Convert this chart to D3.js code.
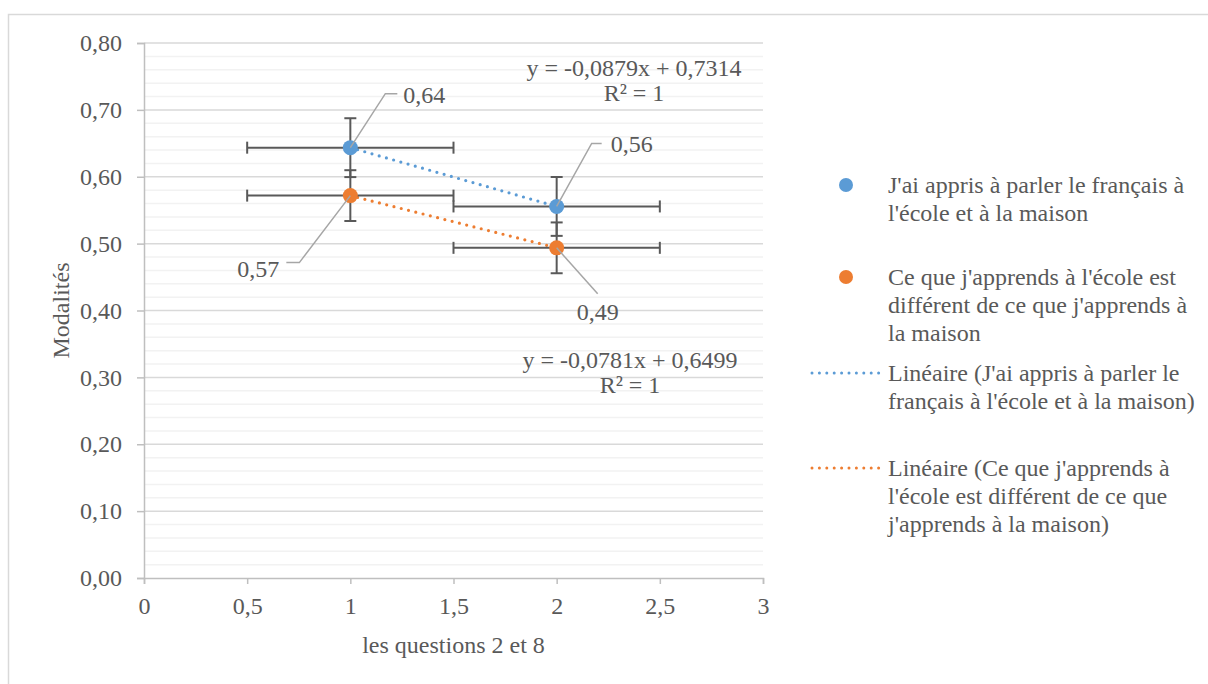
<!DOCTYPE html>
<html>
<head>
<meta charset="utf-8">
<script src="https://cdn.jsdelivr.net/npm/d3@7"></script>
<style>
body { margin: 0; background: #fff; }
text { font-family: "Liberation Serif", "Times New Roman", serif; fill: #595959; }
</style>
</head>
<body>
<div id="chart"></div>
<script>
// data
var xValues = [1, 2];
var seriesNames = ["J'ai appris à parler le français à l'école et à la maison",
                   "Ce que j'apprends à l'école est différent de ce que j'apprends à la maison"];
var blueValues = [0.6435, 0.5556];
var orangeValues = [0.5718, 0.4937];
var blueYErr = 0.044;
var orangeYErr = 0.038;
var xErr = 0.5;
var blueLabels = ["0,64", "0,56"];
var orangeLabels = ["0,57", "0,49"];
var equations = [["y = -0,0879x + 0,7314", "R² = 1"], ["y = -0,0781x + 0,6499", "R² = 1"]];
var yTicks = [0, 0.1, 0.2, 0.3, 0.4, 0.5, 0.6, 0.7, 0.8];
var xTicks = [0, 0.5, 1, 1.5, 2, 2.5, 3];

var width = 1208, height = 684;
var plotLeft = 144, plotRight = 763, plotTop = 43, plotBottom = 578;
var blue = "#5B9BD5", orange = "#ED7D31";
var fontSize = "24px";

function init(){
	var svg = d3.select("#chart").append("svg")
		.attr("width", width)
		.attr("height", height);

	// chart border
	svg.append("rect")
		.attr("x", 8.5).attr("y", 14.5)
		.attr("width", 1300).attr("height", 800)
		.attr("fill", "none").attr("stroke", "#d9d9d9").attr("stroke-width", 1.5);

	var x = d3.scaleLinear().domain([0, 3]).range([plotLeft, plotRight]);
	var y = d3.scaleLinear().domain([0, 0.8]).range([plotBottom, plotTop]);
	var fmt = function(v, n){ return d3.format("." + n + "f")(v).replace(".", ","); };

	// minor gridlines
	svg.append("g").selectAll("line")
		.data(d3.range(0, 40).map(i => i * 0.02).filter((v, i) => i % 5 != 0))
		.enter().append("line")
		.attr("x1", plotLeft).attr("x2", plotRight)
		.attr("y1", d => y(d)).attr("y2", d => y(d))
		.attr("stroke", "#f2f2f2").attr("stroke-width", 1.5);

	// major gridlines
	svg.append("g").selectAll("line")
		.data(yTicks.slice(1))
		.enter().append("line")
		.attr("x1", plotLeft).attr("x2", plotRight)
		.attr("y1", d => y(d)).attr("y2", d => y(d))
		.attr("stroke", "#d9d9d9").attr("stroke-width", 1.5);

	// axes
	var yAxis = svg.append("g")
		.attr("transform", "translate(" + plotLeft + ",0)")
		.call(d3.axisLeft(y).tickValues(yTicks).tickSize(7).tickPadding(15).tickFormat(d => fmt(d, 2)));
	var xAxis = svg.append("g")
		.attr("transform", "translate(0," + plotBottom + ")")
		.call(d3.axisBottom(x).tickValues(xTicks).tickSize(6).tickPadding(13).tickFormat(d => fmt(d, d % 1 ? 1 : 0)));
	[yAxis, xAxis].forEach(function(a){
		a.select(".domain").attr("stroke", "#bfbfbf").attr("stroke-width", 1.5);
		a.selectAll(".tick line").attr("stroke", "#bfbfbf").attr("stroke-width", 1.5);
		a.selectAll(".tick text").attr("fill", "#595959").style("font-size", fontSize);
	});

	svg.append("text")
		.attr("x", (plotLeft + plotRight) / 2).attr("y", 653)
		.attr("text-anchor", "middle").style("font-size", fontSize)
		.text("les questions 2 et 8");
	svg.append("text")
		.attr("transform", "translate(69," + (plotTop + plotBottom) / 2 + ") rotate(-90)")
		.attr("text-anchor", "middle").style("font-size", fontSize)
		.text("Modalités");

	var series = [
		{vals: blueValues, err: blueYErr, color: blue, labels: blueLabels},
		{vals: orangeValues, err: orangeYErr, color: orange, labels: orangeLabels}
	];

	// trendlines (least squares over the points)
	series.forEach(function(s){
		var mx = d3.mean(xValues), my = d3.mean(s.vals);
		var slope = d3.sum(xValues, (xv, i) => (xv - mx) * (s.vals[i] - my)) / d3.sum(xValues, xv => (xv - mx) * (xv - mx));
		var icpt = my - slope * mx;
		var ext = d3.extent(xValues);
		svg.append("line")
			.attr("x1", x(ext[0])).attr("y1", y(slope * ext[0] + icpt))
			.attr("x2", x(ext[1])).attr("y2", y(slope * ext[1] + icpt))
			.attr("stroke", s.color).attr("stroke-width", 3.2)
			.attr("stroke-linecap", "round").attr("stroke-dasharray", "0,7.5");
	});

	// error bars
	series.forEach(function(s){
		var g = svg.append("g").attr("stroke", "#595959").attr("stroke-width", 2);
		xValues.forEach(function(xv, i){
			var v = s.vals[i];
			g.append("line").attr("x1", x(xv - xErr)).attr("x2", x(xv + xErr)).attr("y1", y(v)).attr("y2", y(v));
			[xv - xErr, xv + xErr].forEach(function(e){
				g.append("line").attr("x1", x(e)).attr("x2", x(e)).attr("y1", y(v) - 6).attr("y2", y(v) + 6);
			});
			g.append("line").attr("x1", x(xv)).attr("x2", x(xv)).attr("y1", y(v - s.err)).attr("y2", y(v + s.err));
			[v - s.err, v + s.err].forEach(function(e){
				g.append("line").attr("x1", x(xv) - 6).attr("x2", x(xv) + 6).attr("y1", y(e)).attr("y2", y(e));
			});
		});
	});

	// markers
	series.forEach(function(s){
		svg.append("g").selectAll("circle")
			.data(s.vals).enter().append("circle")
			.attr("cx", (d, i) => x(xValues[i]))
			.attr("cy", d => y(d))
			.attr("r", 7.5)
			.attr("fill", s.color);
	});

	// data labels with leader lines (offsets relative to point)
	var labelPos = [
		[{lx: 35, ly: -54, hx: 12, tx: 6, ty: 9, anchor: "start"}, {lx: 35, ly: -63, hx: 10, tx: 9, ty: 9, anchor: "start"}],
		[{lx: -51, ly: 67, hx: -13, tx: -7, ty: 14, anchor: "end"}, {lx: 41, ly: 46, hx: 0, tx: 0, ty: 26, anchor: "middle"}]
	];
	series.forEach(function(s, si){
		s.vals.forEach(function(v, i){
			var px = x(xValues[i]), py = y(v), p = labelPos[si][i];
			var ex = px + p.lx + p.hx, ey = py + p.ly;
			svg.append("polyline")
				.attr("points", [[px, py], [px + p.lx, ey], [ex, ey]].join(" "))
				.attr("fill", "none").attr("stroke", "#a6a6a6").attr("stroke-width", 1.5);
			svg.append("text")
				.attr("x", ex + p.tx).attr("y", ey + p.ty)
				.attr("text-anchor", p.anchor).style("font-size", fontSize)
				.text(s.labels[i]);
		});
	});

	// trendline equations
	var eqPos = [[634, 76], [630, 368]];
	equations.forEach(function(eq, i){
		eq.forEach(function(line, j){
			svg.append("text")
				.attr("x", eqPos[i][0]).attr("y", eqPos[i][1] + j * 25)
				.attr("text-anchor", "middle").style("font-size", fontSize)
				.text(line);
		});
	});

	// legend
	var legendItems = [
		{type: "dot", color: blue, lines: ["J'ai appris à parler le français à", "l'école et à la maison"], y: 185},
		{type: "dot", color: orange, lines: ["Ce que j'apprends à l'école est", "différent de ce que j'apprends à", "la maison"], y: 277},
		{type: "line", color: blue, lines: ["Linéaire (J'ai appris à parler le", "français à l'école et à la maison)"], y: 373},
		{type: "line", color: orange, lines: ["Linéaire (Ce que j'apprends à", "l'école est différent de ce que", "j'apprends à la maison)"], y: 468}
	];
	var legend = svg.selectAll("g.legend").data(legendItems).enter().append("g").attr("class", "legend");
	legend.filter(d => d.type == "dot").append("circle")
		.attr("cx", 846).attr("cy", d => d.y).attr("r", 7).attr("fill", d => d.color);
	legend.filter(d => d.type == "line").append("line")
		.attr("x1", 812).attr("x2", 879).attr("y1", d => d.y).attr("y2", d => d.y)
		.attr("stroke", d => d.color).attr("stroke-width", 3)
		.attr("stroke-linecap", "round").attr("stroke-dasharray", "0,7.4");
	legend.each(function(d){
		var g = d3.select(this);
		d.lines.forEach(function(l, j){
			g.append("text").attr("x", 888).attr("y", d.y + 8 + j * 28)
				.style("font-size", fontSize).text(l);
		});
	});
}

window.onload = init;
</script>
</body>
</html>
